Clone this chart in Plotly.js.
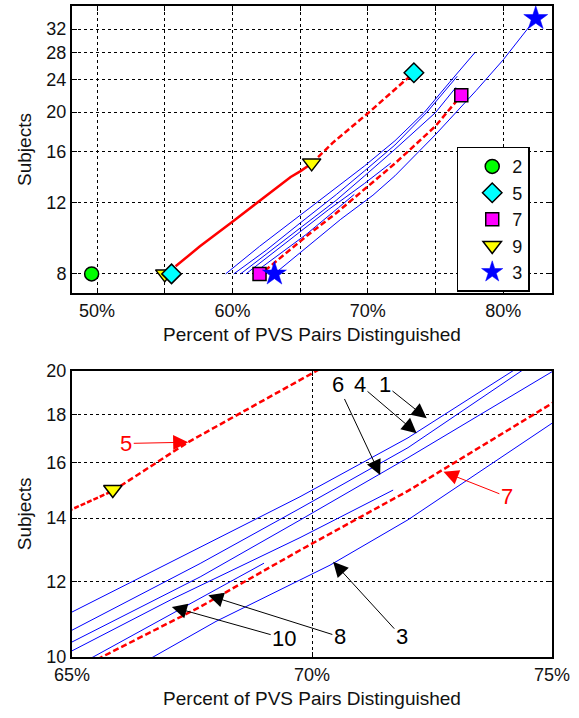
<!DOCTYPE html>
<html>
<head>
<meta charset="utf-8">
<script src="https://cdn.plot.ly/plotly-3.0.1.min.js"></script>
<style>html,body{margin:0;padding:0;background:#fff;}#chart{width:579px;height:718px;}</style>
</head>
<body>
<div id="chart"></div>
<script>
// ---- Data (x = percent of PVS pairs distinguished, y = subjects) ----
const red5LoX = [55.8, 57.6, 60.0, 62.0, 64.3, 65.0, 65.85];
const red5LoY = [8.35, 9.35, 10.75, 12.1, 13.85, 14.3, 14.95];
const red5HiX = [65.85, 67.4, 70.1, 72.0, 73.4];
const red5HiY = [14.95, 16.8, 20.0, 22.8, 25.0];
const red7X = [62.4, 65.62, 67.67, 69.75, 72.0, 75.0, 76.9];
const red7Y = [8.15, 10.0, 11.29, 12.95, 14.95, 18.48, 22.0];

const blue1X = [59.5, 62.0, 65.0, 67.67, 69.75, 72.0, 74.19, 76.0, 77.9];
const blue1Y = [8.0, 9.35, 11.15, 13.05, 14.74, 17.0, 20.0, 23.6, 28.0];
const blue4X = [60.1, 62.5, 65.0, 67.67, 69.75, 72.0, 74.37, 76.6];
const blue4Y = [8.0, 9.15, 10.67, 12.54, 14.33, 16.6, 20.0, 24.5];
const blue6X = [60.6, 63.0, 65.0, 67.67, 69.75, 72.0, 75.0, 76.5];
const blue6Y = [8.0, 9.2, 10.37, 12.14, 13.93, 16.2, 19.95, 23.0];
const blue10X = [61.0, 63.0, 65.0, 67.08, 69.75, 71.69];
const blue10Y = [8.0, 9.0, 10.15, 11.5, 13.35, 14.98];
const blue8X = [61.5, 63.5, 65.44, 67.84, 69.0];
const blue8Y = [8.0, 8.95, 10.0, 11.65, 12.55];
const blue3X = [63.1, 66.69, 68.0, 70.375, 72.0, 75.0, 78.0, 80.0, 82.4];
const blue3Y = [8.0, 10.0, 10.9, 12.49, 13.94, 17.61, 22.6, 26.9, 34.0];

const legendNames = ['2', '5', '7', '9', '3'];
const pts2X = [49.6];        const pts2Y = [8];
const pts5X = [55.5, 73.4];  const pts5Y = [8, 25];
const pts7X = [62.0, 76.9];  const pts7Y = [8, 22];
const pts9X = [55.0, 65.85]; const pts9Y = [8, 15];
const pts3X = [63.1, 82.4];  const pts3Y = [8, 34];

const topXTicks = [50, 55, 60, 65, 70, 75, 80];
const topXLabels = ['50%', '', '60%', '', '70%', '', '80%'];
const topYTicks = [8, 12, 16, 20, 24, 28, 32];
const botXTicks = [65, 70, 75];
const botXLabels = ['65%', '70%', '75%'];
const botYTicks = [10, 12, 14, 16, 18, 20];

// ---- Build traces for both panels ----
const FONT = 'Liberation Sans, Arial, sans-serif';
const traces = [];
const panels = [['x', 'y'], ['x2', 'y2']];
const blueSets = [[blue1X, blue1Y], [blue4X, blue4Y], [blue6X, blue6Y], [blue10X, blue10Y], [blue8X, blue8Y], [blue3X, blue3Y]];

panels.forEach(([xa, ya], pi) => {
  blueSets.forEach(([bx, by]) => {
    traces.push({x: bx, y: by, xaxis: xa, yaxis: ya, mode: 'lines', showlegend: false,
      line: {color: '#0000ff', width: 1}, hoverinfo: 'skip'});
  });
  traces.push({x: red5LoX, y: red5LoY, xaxis: xa, yaxis: ya, mode: 'lines', showlegend: false,
    line: {color: '#ff0000', width: 2.5, dash: pi === 0 ? 'solid' : '5px,2px'}});
  traces.push({x: red5HiX, y: red5HiY, xaxis: xa, yaxis: ya, mode: 'lines', showlegend: false,
    line: {color: '#ff0000', width: 2.5, dash: '6px,3px'}});
  traces.push({x: red7X, y: red7Y, xaxis: xa, yaxis: ya, mode: 'lines', showlegend: false,
    line: {color: '#ff0000', width: 2.5, dash: '6px,3px'}});
});

const markerSets = [
  {x: pts2X, y: pts2Y, name: legendNames[0], rank: 1, symbol: 'circle', color: '#00ff00', size: 14},
  {x: pts9X, y: pts9Y, name: legendNames[3], rank: 4, symbol: 'triangle-down', color: '#ffff00', size: 16},
  {x: pts5X, y: pts5Y, name: legendNames[1], rank: 2, symbol: 'diamond', color: '#00ffff', size: 15},
  {x: pts7X, y: pts7Y, name: legendNames[2], rank: 3, symbol: 'square', color: '#ff00ff', size: 13},
  {x: pts3X, y: pts3Y, name: legendNames[4], rank: 5, symbol: 'star', color: '#0000ff', size: 18}
];
markerSets.forEach(m => {
  const isStar = m.symbol === 'star';
  panels.forEach(([xa, ya], pi) => {
    traces.push({x: m.x, y: m.y, xaxis: xa, yaxis: ya, mode: 'markers', name: m.name,
      showlegend: pi === 0, legendrank: m.rank,
      marker: {symbol: m.symbol, size: m.size, color: m.color,
        line: {color: isStar ? '#0000ff' : '#000000', width: isStar ? 0.5 : 1.5}}});
  });
});

const axisCommon = {
  showline: true, linecolor: '#000', linewidth: 2, mirror: 'ticks',
  ticks: 'inside', ticklen: 5, tickcolor: '#000', tickwidth: 1,
  showgrid: true, gridcolor: '#000', gridwidth: 1, griddash: '3px,3px',
  zeroline: false, tickfont: {family: FONT, size: 18, color: '#111'}
};
const xTitle = {text: 'Percent of PVS Pairs Distinguished', font: {family: FONT, size: 19, color: '#111'}, standoff: 8};
const yTitle = {text: 'Subjects', font: {family: FONT, size: 19, color: '#111'}, standoff: 10};

const L = Math.log10;
function ann(text, tipX, tipY, txtX, txtY, color) {
  return {xref: 'x2', yref: 'y2', axref: 'x2', ayref: 'y2', x: tipX, y: L(tipY), ax: txtX, ay: L(txtY),
    text: text, showarrow: true, arrowhead: 2, arrowsize: 3, arrowwidth: 1, arrowcolor: color,
    font: {family: FONT, size: 22, color: color}};
}

const layout = {
  width: 579, height: 718,
  margin: {l: 72, r: 27, t: 6, b: 61},
  paper_bgcolor: '#fff', plot_bgcolor: '#fff',
  font: {family: FONT},
  showlegend: true,
  legend: {x: 0.8015, y: 0.7839, xanchor: 'left', yanchor: 'top', bgcolor: '#fff',
    bordercolor: '#000', borderwidth: 1.5, font: {family: FONT, size: 18, color: '#111'},
    indentation: 14, tracegroupgap: 0, itemsizing: 'trace'},
  xaxis: Object.assign({}, axisCommon, {domain: [0, 1], anchor: 'y', range: [48.15, 83.6],
    tickvals: topXTicks, ticktext: topXLabels, title: xTitle}),
  yaxis: Object.assign({}, axisCommon, {domain: [0.5591, 1], anchor: 'x', type: 'log',
    range: [0.856, 1.562], tickvals: topYTicks, ticktext: topYTicks.map(String), title: yTitle}),
  xaxis2: Object.assign({}, axisCommon, {domain: [0, 1], anchor: 'y2', range: [65, 75],
    tickvals: botXTicks, ticktext: botXLabels, title: xTitle}),
  yaxis2: Object.assign({}, axisCommon, {domain: [0, 0.4398], anchor: 'x2', type: 'log',
    range: [1 - 1e-6, L(20) + 1e-6], tickvals: botYTicks, ticktext: botYTicks.map(String), title: yTitle}),
  annotations: [
    ann('6', 71.42, 15.54, 70.54, 19.32, '#000'),
    ann('4', 72.18, 17.19, 71.0, 19.32, '#000'),
    ann('1', 72.39, 17.82, 71.52, 19.32, '#000'),
    ann('7', 72.74, 15.66, 74.06, 14.74, '#ff0000'),
    ann('5', 67.42, 16.82, 66.13, 16.77, '#ff0000'),
    ann('3', 70.44, 12.59, 71.87, 10.5, '#000'),
    ann('8', 67.84, 11.61, 70.58, 10.5, '#000'),
    ann('10', 67.08, 11.29, 69.42, 10.46, '#000')
  ]
};

Plotly.newPlot('chart', traces, layout, {displayModeBar: false, staticPlot: true});
</script>
</body>
</html>
